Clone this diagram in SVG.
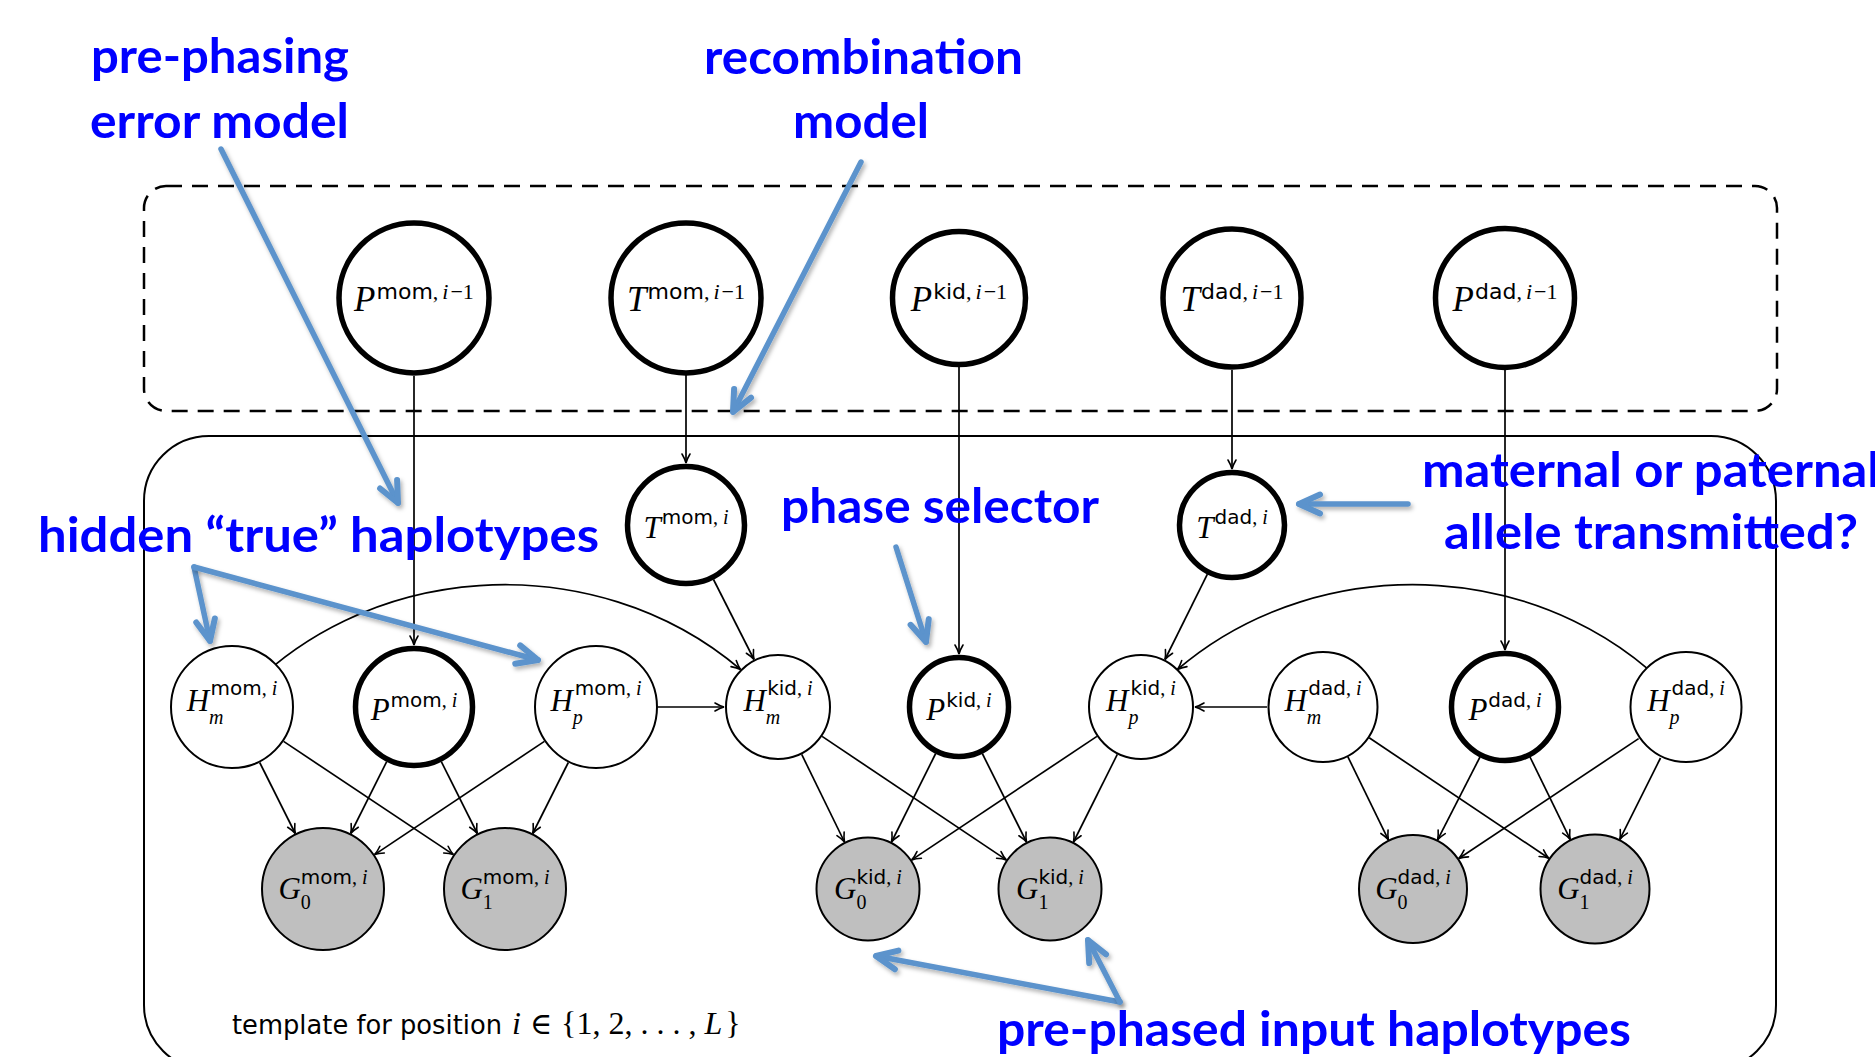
<svg xmlns="http://www.w3.org/2000/svg" width="1875" height="1057" viewBox="0 0 1875 1057">
<style>
.thin{fill:#fff;stroke:#000;stroke-width:2}
.thick{fill:#fff;stroke:#000;stroke-width:5.5}
.obs{fill:#bfbfbf;stroke:#000;stroke-width:2}
.mi{font-family:"Liberation Serif","DejaVu Serif",serif;font-style:italic}
.rm{font-family:"Liberation Serif","DejaVu Serif",serif;font-style:normal}
.sf{font-family:"DejaVu Sans",sans-serif;font-style:normal}
.lbl{text-anchor:middle;fill:#000}
.ann{font-family:Lato,"Open Sans",sans-serif;font-weight:700;font-size:48px;fill:#0000ff}
.edge{stroke:#000;stroke-width:1.7;fill:none;marker-end:url(#ah)}
.blue{stroke:#5b93cc;stroke-width:5.5;fill:none;stroke-linecap:round;marker-end:url(#bh);filter:url(#sh)}
</style>
<defs>
<marker id="ah" viewBox="-11 -6 13 12" markerWidth="13" markerHeight="12" refX="0" refY="0" orient="auto" markerUnits="userSpaceOnUse">
<path d="M-9,-4 Q-4,-1 0,0 Q-4,1 -9,4" fill="none" stroke="#000" stroke-width="1.6" stroke-linecap="round"/>
</marker>
<marker id="bh" viewBox="-28 -15 34 30" markerWidth="34" markerHeight="30" refX="0" refY="0" orient="auto" markerUnits="userSpaceOnUse">
<path d="M-21,-9.5 L0,0 L-21,9.5" fill="none" stroke="#5b93cc" stroke-width="6" stroke-linecap="round" stroke-linejoin="round"/>
</marker>
<filter id="sh" filterUnits="userSpaceOnUse" x="0" y="0" width="1875" height="1057">
<feDropShadow dx="2" dy="3" stdDeviation="2" flood-color="#000" flood-opacity="0.3"/>
</filter>
</defs>
<rect width="1875" height="1057" fill="#fff"/>

<g id="plates">
<rect x="144" y="186" width="1633" height="225" rx="22" ry="22" fill="none" stroke="#000" stroke-width="2.5" stroke-dasharray="16 10"/>
<rect x="144" y="436" width="1632" height="634" rx="65" ry="65" fill="none" stroke="#000" stroke-width="2"/>
<text y="1034" font-size="26" class="sf"><tspan x="232" textLength="270" lengthAdjust="spacingAndGlyphs">template for position</tspan><tspan class="mi" font-size="32" dx="10">i</tspan><tspan class="rm" font-size="30" dx="9">∈</tspan><tspan class="rm" font-size="32" dx="9">{1,</tspan><tspan class="rm" font-size="32" dx="8">2,</tspan><tspan class="rm" font-size="32" dx="8">. . . ,</tspan><tspan class="mi" font-size="32" dx="8">L</tspan><tspan class="rm" font-size="32" dx="3">}</tspan></text>
</g>

<g id="connectors">
<path class="edge" d="M414,376 L414,645"/>
<path class="edge" d="M686,375 L686,463"/>
<path class="edge" d="M959,367 L959,654"/>
<path class="edge" d="M1232,370 L1232,469"/>
<path class="edge" d="M1505,370 L1505,650"/>
<path class="edge" d="M713.5,579.5 L754,659.5"/>
<path class="edge" d="M1207.4,574.2 L1165,659.5"/>
<path class="edge" d="M658,707 L724,707"/>
<path class="edge" d="M1267,707 L1195,707"/>
<path class="edge" d="M232,707 C359.35,557.66 594.99,545.14 740.49,669.46"/>
<path class="edge" d="M1686,707 C1558.65,557.66 1323.01,545.14 1177.5,669.46"/>
<path class="edge" d="M259.7,762.5 L295.3,833.5"/>
<path class="edge" d="M283.6,741.4 L453.4,854.6"/>
<path class="edge" d="M386.7,761.6 L350.7,833.5"/>
<path class="edge" d="M441.3,761.6 L477.3,833.5"/>
<path class="edge" d="M544.4,741.4 L374.6,854.6"/>
<path class="edge" d="M568.3,762.5 L532.7,833.5"/>
<path class="edge" d="M801.7,754.4 L844.5,842"/>
<path class="edge" d="M822.1,736.4 L1006.3,859.9"/>
<path class="edge" d="M935.7,753.5 L891.5,842"/>
<path class="edge" d="M982.3,753.5 L1026.5,842"/>
<path class="edge" d="M1096.9,736.4 L911.7,859.9"/>
<path class="edge" d="M1117.3,754.4 L1073.5,842"/>
<path class="edge" d="M1347.8,756.6 L1388.4,839.8"/>
<path class="edge" d="M1369.2,737.8 L1548.8,858.2"/>
<path class="edge" d="M1480,757 L1437.6,839.8"/>
<path class="edge" d="M1530,757 L1570.2,839.4"/>
<path class="edge" d="M1638.6,738.6 L1458.8,858.5"/>
<path class="edge" d="M1660.5,758 L1619.8,839.4"/>
</g>

<g id="node-P-mom-prev"><circle class="thick" cx="414" cy="298" r="75"/>
<text class="lbl" x="414" y="311" font-size="35"><tspan class="mi">P</tspan><tspan font-size="22" dy="-12" dx="1"><tspan class="sf">mom</tspan><tspan class="rm">,</tspan><tspan class="mi" dx="4">i</tspan><tspan class="rm" dx="2">−1</tspan></tspan></text></g>
<g id="node-T-mom-prev"><circle class="thick" cx="686" cy="298" r="75"/>
<text class="lbl" x="686" y="311" font-size="35"><tspan class="mi">T</tspan><tspan font-size="22" dy="-12" dx="1"><tspan class="sf">mom</tspan><tspan class="rm">,</tspan><tspan class="mi" dx="4">i</tspan><tspan class="rm" dx="2">−1</tspan></tspan></text></g>
<g id="node-P-kid-prev"><circle class="thick" cx="959" cy="298" r="66.5"/>
<text class="lbl" x="959" y="311" font-size="35"><tspan class="mi">P</tspan><tspan font-size="22" dy="-12" dx="1"><tspan class="sf">kid</tspan><tspan class="rm">,</tspan><tspan class="mi" dx="4">i</tspan><tspan class="rm" dx="2">−1</tspan></tspan></text></g>
<g id="node-T-dad-prev"><circle class="thick" cx="1232" cy="298" r="69"/>
<text class="lbl" x="1232" y="311" font-size="35"><tspan class="mi">T</tspan><tspan font-size="22" dy="-12" dx="1"><tspan class="sf">dad</tspan><tspan class="rm">,</tspan><tspan class="mi" dx="4">i</tspan><tspan class="rm" dx="2">−1</tspan></tspan></text></g>
<g id="node-P-dad-prev"><circle class="thick" cx="1505" cy="298" r="69.5"/>
<text class="lbl" x="1505" y="311" font-size="35"><tspan class="mi">P</tspan><tspan font-size="22" dy="-12" dx="1"><tspan class="sf">dad</tspan><tspan class="rm">,</tspan><tspan class="mi" dx="4">i</tspan><tspan class="rm" dx="2">−1</tspan></tspan></text></g>

<g id="node-T-mom"><circle class="thick" cx="686" cy="525" r="58.5"/>
<text class="lbl" x="686" y="538" font-size="31"><tspan class="mi">T</tspan><tspan font-size="20" dy="-14" dx="1"><tspan class="sf">mom</tspan><tspan class="rm">,</tspan><tspan class="mi" dx="5">i</tspan></tspan></text></g>
<g id="node-T-dad"><circle class="thick" cx="1232" cy="525" r="52.5"/>
<text class="lbl" x="1232" y="538" font-size="31"><tspan class="mi">T</tspan><tspan font-size="20" dy="-14" dx="1"><tspan class="sf">dad</tspan><tspan class="rm">,</tspan><tspan class="mi" dx="5">i</tspan></tspan></text></g>

<g id="node-Hm-mom"><circle class="thin" cx="232" cy="707" r="61"/>
<text class="lbl" x="232" y="711" font-size="31"><tspan class="mi">H</tspan><tspan class="mi" font-size="20" dy="13">m</tspan><tspan font-size="20" dx="-13" dy="-29"><tspan class="sf">mom</tspan><tspan class="rm">,</tspan><tspan class="mi" dx="5">i</tspan></tspan></text></g>
<g id="node-P-mom"><circle class="thick" cx="414" cy="707" r="58.5"/>
<text class="lbl" x="414" y="720" font-size="31"><tspan class="mi">P</tspan><tspan font-size="20" dy="-13" dx="1"><tspan class="sf">mom</tspan><tspan class="rm">,</tspan><tspan class="mi" dx="5">i</tspan></tspan></text></g>
<g id="node-Hp-mom"><circle class="thin" cx="596" cy="707" r="61"/>
<text class="lbl" x="596" y="711" font-size="31"><tspan class="mi">H</tspan><tspan class="mi" font-size="20" dy="13">p</tspan><tspan font-size="20" dx="-8" dy="-29"><tspan class="sf">mom</tspan><tspan class="rm">,</tspan><tspan class="mi" dx="5">i</tspan></tspan></text></g>
<g id="node-Hm-kid"><circle class="thin" cx="778" cy="707" r="52"/>
<text class="lbl" x="778" y="711" font-size="31"><tspan class="mi">H</tspan><tspan class="mi" font-size="20" dy="13">m</tspan><tspan font-size="20" dx="-13" dy="-29"><tspan class="sf">kid</tspan><tspan class="rm">,</tspan><tspan class="mi" dx="5">i</tspan></tspan></text></g>
<g id="node-P-kid"><circle class="thick" cx="959" cy="707" r="49.5"/>
<text class="lbl" x="959" y="720" font-size="31"><tspan class="mi">P</tspan><tspan font-size="20" dy="-13" dx="1"><tspan class="sf">kid</tspan><tspan class="rm">,</tspan><tspan class="mi" dx="5">i</tspan></tspan></text></g>
<g id="node-Hp-kid"><circle class="thin" cx="1141" cy="707" r="52"/>
<text class="lbl" x="1141" y="711" font-size="31"><tspan class="mi">H</tspan><tspan class="mi" font-size="20" dy="13">p</tspan><tspan font-size="20" dx="-8" dy="-29"><tspan class="sf">kid</tspan><tspan class="rm">,</tspan><tspan class="mi" dx="5">i</tspan></tspan></text></g>
<g id="node-Hm-dad"><ellipse class="thin" cx="1323" cy="707" rx="54.5" ry="55"/>
<text class="lbl" x="1323" y="711" font-size="31"><tspan class="mi">H</tspan><tspan class="mi" font-size="20" dy="13">m</tspan><tspan font-size="20" dx="-13" dy="-29"><tspan class="sf">dad</tspan><tspan class="rm">,</tspan><tspan class="mi" dx="5">i</tspan></tspan></text></g>
<g id="node-P-dad"><circle class="thick" cx="1505" cy="707" r="53.5"/>
<text class="lbl" x="1505" y="720" font-size="31"><tspan class="mi">P</tspan><tspan font-size="20" dy="-13" dx="1"><tspan class="sf">dad</tspan><tspan class="rm">,</tspan><tspan class="mi" dx="5">i</tspan></tspan></text></g>
<g id="node-Hp-dad"><ellipse class="thin" cx="1686" cy="707" rx="55.5" ry="55"/>
<text class="lbl" x="1686" y="711" font-size="31"><tspan class="mi">H</tspan><tspan class="mi" font-size="20" dy="13">p</tspan><tspan font-size="20" dx="-8" dy="-29"><tspan class="sf">dad</tspan><tspan class="rm">,</tspan><tspan class="mi" dx="5">i</tspan></tspan></text></g>

<g id="node-G0-mom"><circle class="obs" cx="323" cy="889" r="61"/>
<text class="lbl" x="323" y="899" font-size="31"><tspan class="mi">G</tspan><tspan class="rm" font-size="20" dy="10">0</tspan><tspan font-size="20" dx="-10" dy="-25"><tspan class="sf">mom</tspan><tspan class="rm">,</tspan><tspan class="mi" dx="5">i</tspan></tspan></text></g>
<g id="node-G1-mom"><circle class="obs" cx="505" cy="889" r="61"/>
<text class="lbl" x="505" y="899" font-size="31"><tspan class="mi">G</tspan><tspan class="rm" font-size="20" dy="10">1</tspan><tspan font-size="20" dx="-10" dy="-25"><tspan class="sf">mom</tspan><tspan class="rm">,</tspan><tspan class="mi" dx="5">i</tspan></tspan></text></g>
<g id="node-G0-kid"><circle class="obs" cx="868" cy="889" r="51.5"/>
<text class="lbl" x="868" y="899" font-size="31"><tspan class="mi">G</tspan><tspan class="rm" font-size="20" dy="10">0</tspan><tspan font-size="20" dx="-10" dy="-25"><tspan class="sf">kid</tspan><tspan class="rm">,</tspan><tspan class="mi" dx="5">i</tspan></tspan></text></g>
<g id="node-G1-kid"><circle class="obs" cx="1050" cy="889" r="51.5"/>
<text class="lbl" x="1050" y="899" font-size="31"><tspan class="mi">G</tspan><tspan class="rm" font-size="20" dy="10">1</tspan><tspan font-size="20" dx="-10" dy="-25"><tspan class="sf">kid</tspan><tspan class="rm">,</tspan><tspan class="mi" dx="5">i</tspan></tspan></text></g>
<g id="node-G0-dad"><circle class="obs" cx="1413" cy="889" r="54"/>
<text class="lbl" x="1413" y="899" font-size="31"><tspan class="mi">G</tspan><tspan class="rm" font-size="20" dy="10">0</tspan><tspan font-size="20" dx="-10" dy="-25"><tspan class="sf">dad</tspan><tspan class="rm">,</tspan><tspan class="mi" dx="5">i</tspan></tspan></text></g>
<g id="node-G1-dad"><circle class="obs" cx="1595" cy="889" r="54.5"/>
<text class="lbl" x="1595" y="899" font-size="31"><tspan class="mi">G</tspan><tspan class="rm" font-size="20" dy="10">1</tspan><tspan font-size="20" dx="-10" dy="-25"><tspan class="sf">dad</tspan><tspan class="rm">,</tspan><tspan class="mi" dx="5">i</tspan></tspan></text></g>

<g id="annotations">
<text class="ann" x="91" y="73" textLength="258" lengthAdjust="spacingAndGlyphs">pre-phasing</text>
<text class="ann" x="90" y="138" textLength="259" lengthAdjust="spacingAndGlyphs">error model</text>
<text class="ann" x="704" y="74" textLength="319" lengthAdjust="spacingAndGlyphs">recombination</text>
<text class="ann" x="793" y="138" textLength="136" lengthAdjust="spacingAndGlyphs">model</text>
<text class="ann" x="38" y="552" textLength="561" lengthAdjust="spacingAndGlyphs">hidden “true” haplotypes</text>
<text class="ann" x="781" y="523" textLength="318" lengthAdjust="spacingAndGlyphs">phase selector</text>
<text class="ann" x="1422" y="487" textLength="458" lengthAdjust="spacingAndGlyphs">maternal or paternal</text>
<text class="ann" x="1444" y="549" textLength="414" lengthAdjust="spacingAndGlyphs">allele transmitted?</text>
<text class="ann" x="997" y="1046" textLength="634" lengthAdjust="spacingAndGlyphs">pre-phased input haplotypes</text>
<path class="blue" d="M221,149 L398,503"/>
<path class="blue" d="M861,162 L733,412"/>
<path class="blue" d="M194,567 L210,641"/>
<path class="blue" d="M194,567 L538,660"/>
<path class="blue" d="M896,547 L926,642"/>
<path class="blue" d="M1408,504 L1299,504"/>
<path class="blue" d="M1120,1002 L876,956"/>
<path class="blue" d="M1120,1002 L1088,940"/>
</g>
</svg>
